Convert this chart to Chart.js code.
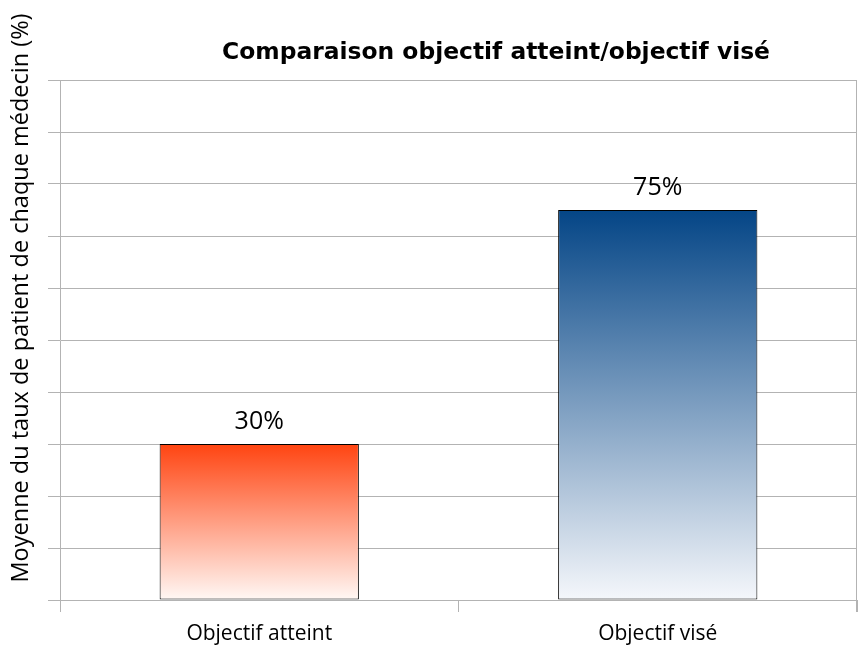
<!DOCTYPE html>
<html>
<head>
<meta charset="utf-8">
<script src="https://cdn.jsdelivr.net/npm/chart.js@4"></script>
<style>
  html, body { margin: 0; padding: 0; background: #fff; }
  #wrap { width: 858px; height: 646px; }
</style>
</head>
<body>
<div id="wrap"><canvas id="chart"></canvas></div>
<script>
const categories = ["Objectif atteint", "Objectif visé"];
const values = [30, 75];
const valueLabels = ["30%", "75%"];

const titleText = "Comparaison objectif atteint/objectif visé";
const yTitle = "Moyenne du taux de patient de chaque médecin (%)";

// vertical gradients, strong colour at the top, fading to white
function barFill(ctx) {
  const chart = ctx.chart;
  const area = chart.chartArea;
  const yScale = chart.scales.y;
  if (!area || !yScale) return "#ff4513";
  let top = yScale.getPixelForValue(values[ctx.dataIndex]);
  if (!isFinite(top)) top = area.top;
  const g = chart.ctx.createLinearGradient(0, top, 0, area.bottom);
  if (ctx.dataIndex === 0) {
    g.addColorStop(0, "rgba(255,68,17,1)");
    g.addColorStop(1, "rgba(255,248,245,1)");
  } else {
    g.addColorStop(0, "rgba(4,69,134,1)");
    g.addColorStop(1, "rgba(245,247,251,1)");
  }
  return g;
}

// title, y title, value labels and right border
const extras = {
  id: "extras",
  afterDraw(chart) {
    const c = chart.ctx;
    const area = chart.chartArea;
    c.save();
    c.strokeStyle = "#b3b3b3";
    c.lineWidth = 1;
    c.beginPath();
    c.moveTo(area.right - 0.5, area.top);
    c.lineTo(area.right - 0.5, area.bottom + 12);
    c.stroke();

    c.fillStyle = "#000";
    c.textAlign = "center";
    c.textBaseline = "middle";
    c.font = "bold 23.4px 'DejaVu Sans'";
    c.fillText(titleText, 496, 53);

    c.font = "25px 'Open Sans'";
    const meta = chart.getDatasetMeta(0);
    meta.data.forEach((bar, i) => {
      c.fillText(valueLabels[i], bar.x, bar.y - 22);
    });

    c.save();
    c.translate(21, 298);
    c.rotate(-Math.PI / 2);
    c.font = "23.5px 'Open Sans'";
    c.fillText(yTitle, 0, 0);
    c.restore();
    c.restore();
  }
};

new Chart(document.getElementById("chart"), {
  type: "bar",
  data: {
    labels: categories,
    datasets: [{
      data: values,
      backgroundColor: barFill,
      borderColor: "#000",
      borderWidth: 1,
      borderSkipped: false,
      barPercentage: 0.5,
      categoryPercentage: 1
    }]
  },
  options: {
    responsive: true,
    maintainAspectRatio: false,
    animation: false,
    layout: { padding: { top: 80, right: 1, left: 0, bottom: 0 } },
    plugins: {
      legend: { display: false },
      tooltip: { enabled: false }
    },
    scales: {
      x: {
        grid: {
          drawOnChartArea: false,
          tickLength: 12,
          color: "#b3b3b3"
        },
        border: { display: false },
        ticks: {
          color: "#000",
          padding: 9,
          font: { family: "Open Sans", size: 21 }
        },
        afterFit(scale) { scale.height = 46; }
      },
      y: {
        min: 0,
        max: 100,
        ticks: { stepSize: 10, display: false },
        grid: { color: "#b3b3b3", tickLength: 12 },
        border: { color: "#b3b3b3" },
        title: { display: false },
        afterFit(scale) { scale.width = 60; }
      }
    }
  },
  plugins: [extras]
});
</script>
</body>
</html>
